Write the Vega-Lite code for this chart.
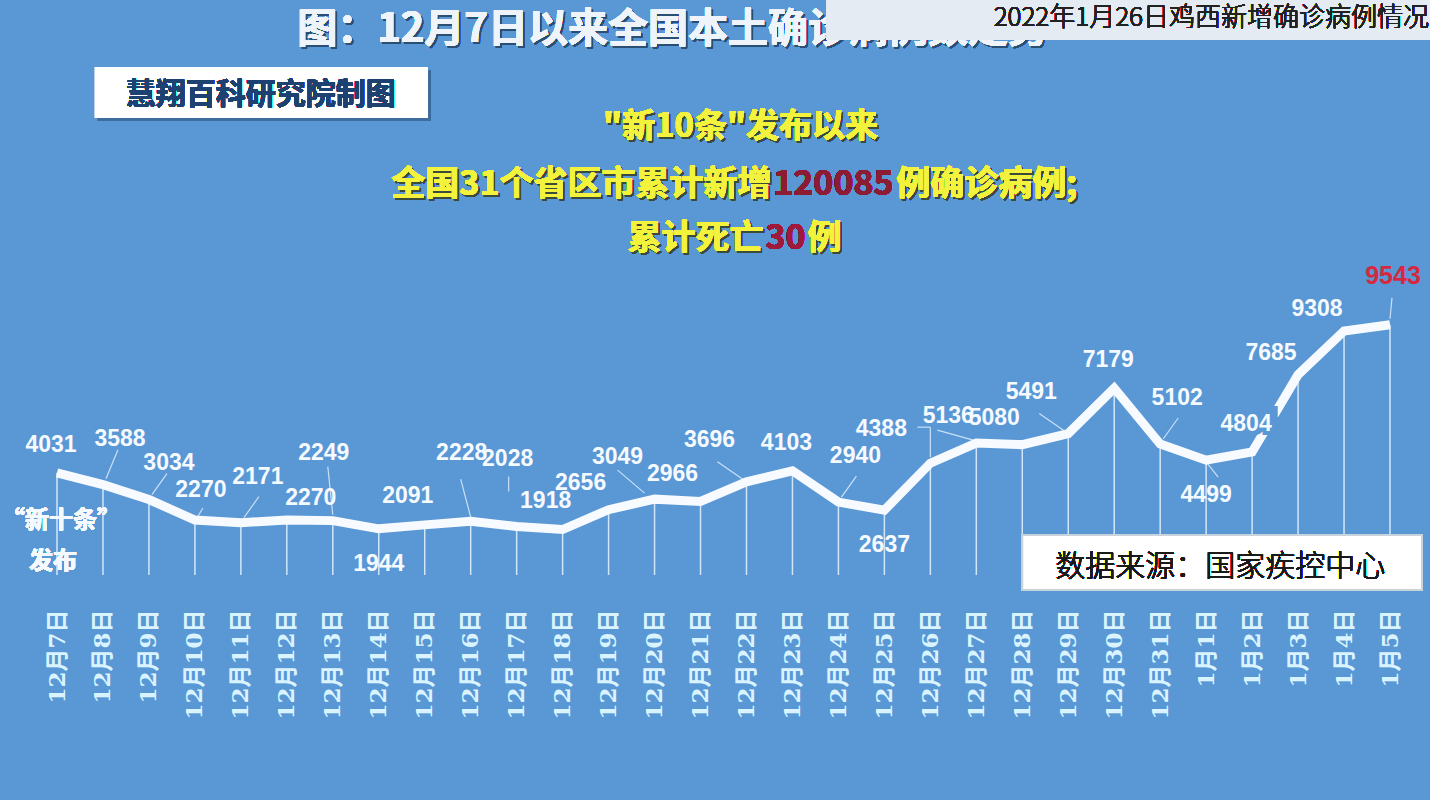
{
  "$schema": "https://vega.github.io/schema/vega-lite/v6.json",
  "width": 1430,
  "height": 800,
  "autosize": "none",
  "padding": 0,
  "background": "#5a97d5",
  "config": {
    "view": {"stroke": null},
    "font": "Noto Sans CJK SC",
    "text": {"font": "Noto Sans CJK SC"},
    "rule": {"color": "#e6f4ff", "strokeWidth": 1.2, "opacity": 0.8}
  },
  "data": {
    "values": [
      {"date": "12月7日", "cases": 4031},
      {"date": "12月8日", "cases": 3588},
      {"date": "12月9日", "cases": 3034},
      {"date": "12月10日", "cases": 2270},
      {"date": "12月11日", "cases": 2171},
      {"date": "12月12日", "cases": 2270},
      {"date": "12月13日", "cases": 2249},
      {"date": "12月14日", "cases": 1944},
      {"date": "12月15日", "cases": 2091},
      {"date": "12月16日", "cases": 2228},
      {"date": "12月17日", "cases": 2028},
      {"date": "12月18日", "cases": 1918},
      {"date": "12月19日", "cases": 2656},
      {"date": "12月20日", "cases": 3049},
      {"date": "12月21日", "cases": 2966},
      {"date": "12月22日", "cases": 3696},
      {"date": "12月23日", "cases": 4103},
      {"date": "12月24日", "cases": 2940},
      {"date": "12月25日", "cases": 2637},
      {"date": "12月26日", "cases": 4388},
      {"date": "12月27日", "cases": 5136},
      {"date": "12月28日", "cases": 5080},
      {"date": "12月29日", "cases": 5491},
      {"date": "12月30日", "cases": 7179},
      {"date": "12月31日", "cases": 5102},
      {"date": "1月1日", "cases": 4499},
      {"date": "1月2日", "cases": 4804},
      {"date": "1月3日", "cases": 7685},
      {"date": "1月4日", "cases": 9308},
      {"date": "1月5日", "cases": 9543}
    ]
  },
  "encoding": {
    "x": {
      "field": "date",
      "type": "ordinal",
      "sort": null,
      "scale": {
        "type": "point",
        "padding": 0,
        "range": [57, 1390],
        "domain": ["12月7日", "12月8日", "12月9日", "12月10日", "12月11日", "12月12日", "12月13日", "12月14日", "12月15日", "12月16日", "12月17日", "12月18日", "12月19日", "12月20日", "12月21日", "12月22日", "12月23日", "12月24日", "12月25日", "12月26日", "12月27日", "12月28日", "12月29日", "12月30日", "12月31日", "1月1日", "1月2日", "1月3日", "1月4日", "1月5日"]
      },
      "axis": {
        "title": null,
        "orient": "bottom",
        "offset": -193,
        "domain": false,
        "ticks": false,
        "labelAngle": 270,
        "labelPadding": 2,
        "labelOverlap": false,
        "labelFont": "DejaVu Serif, Noto Sans CJK SC",
        "labelFontWeight": "bold",
        "labelFontSize": 23,
        "labelColor": "#d9f4ff"
      }
    },
    "y": {
      "field": "cases",
      "type": "quantitative",
      "scale": {"domain": [-8156, 21639], "nice": false, "zero": false},
      "axis": null
    }
  },
  "layer": [
    {
      "mark": {"type": "rule", "strokeWidth": 1.5, "opacity": 0.85},
      "encoding": {"y2": {"datum": 223}}
    },
    {
      "transform": [{"filter": {"field": "date", "oneOf": ["12月9日", "12月11日", "12月24日", "12月31日"]}}],
      "mark": {"type": "rule", "xOffset": 3, "yOffset": -5, "x2Offset": 18, "y2Offset": -26},
      "encoding": {"x2": {"field": "date"}, "y2": {"field": "cases"}}
    },
    {
      "transform": [{"filter": {"field": "date", "equal": "12月8日"}}],
      "mark": {"type": "rule", "xOffset": 3, "yOffset": -6, "x2Offset": 15, "y2Offset": -35},
      "encoding": {"x2": {"field": "date"}, "y2": {"field": "cases"}}
    },
    {
      "transform": [{"filter": {"field": "date", "equal": "12月10日"}}],
      "mark": {"type": "rule", "xOffset": 2, "yOffset": -2, "x2Offset": 8, "y2Offset": -12},
      "encoding": {"x2": {"field": "date"}, "y2": {"field": "cases"}}
    },
    {
      "transform": [{"filter": {"field": "date", "equal": "12月13日"}}],
      "mark": {"type": "rule", "xOffset": 0, "yOffset": -6, "x2Offset": -5, "y2Offset": -54},
      "encoding": {"x2": {"field": "date"}, "y2": {"field": "cases"}}
    },
    {
      "transform": [{"filter": {"field": "date", "equal": "12月16日"}}],
      "mark": {"type": "rule", "xOffset": 0, "yOffset": -4, "x2Offset": -10, "y2Offset": -42},
      "encoding": {"x2": {"field": "date"}, "y2": {"field": "cases"}}
    },
    {
      "transform": [{"filter": {"field": "date", "equal": "12月17日"}}],
      "mark": {"type": "rule", "xOffset": -8, "yOffset": -35, "x2Offset": -8, "y2Offset": -50},
      "encoding": {"x2": {"field": "date"}, "y2": {"field": "cases"}}
    },
    {
      "transform": [{"filter": {"field": "date", "equal": "12月20日"}}],
      "mark": {"type": "rule", "xOffset": -10, "yOffset": -6, "x2Offset": -37, "y2Offset": -29},
      "encoding": {"x2": {"field": "date"}, "y2": {"field": "cases"}}
    },
    {
      "transform": [{"filter": {"field": "date", "oneOf": ["12月22日", "12月29日"]}}],
      "mark": {"type": "rule", "xOffset": -3, "yOffset": -2, "x2Offset": -29, "y2Offset": -20},
      "encoding": {"x2": {"field": "date"}, "y2": {"field": "cases"}}
    },
    {
      "transform": [{"filter": {"field": "date", "equal": "12月27日"}}],
      "mark": {"type": "rule", "xOffset": -3, "yOffset": -3, "x2Offset": -39, "y2Offset": -13},
      "encoding": {"x2": {"field": "date"}, "y2": {"field": "cases"}}
    },
    {
      "transform": [{"filter": {"field": "date", "equal": "12月26日"}}],
      "mark": {"type": "rule", "xOffset": 0, "yOffset": -6, "x2Offset": 0, "y2Offset": -36},
      "encoding": {"x2": {"field": "date"}, "y2": {"field": "cases"}}
    },
    {
      "transform": [{"filter": {"field": "date", "equal": "12月26日"}}],
      "mark": {"type": "rule", "xOffset": 0, "yOffset": -36, "x2Offset": -13, "y2Offset": -36},
      "encoding": {"x2": {"field": "date"}, "y2": {"field": "cases"}}
    },
    {
      "transform": [{"filter": {"field": "date", "equal": "1月1日"}}],
      "mark": {"type": "rule", "xOffset": 1, "yOffset": 3, "x2Offset": 12, "y2Offset": 17},
      "encoding": {"x2": {"field": "date"}, "y2": {"field": "cases"}}
    },
    {
      "transform": [{"filter": {"field": "date", "equal": "1月5日"}}],
      "mark": {"type": "rule", "xOffset": 0, "yOffset": -6, "x2Offset": 2, "y2Offset": -27},
      "encoding": {"x2": {"field": "date"}, "y2": {"field": "cases"}}
    },
    {
      "mark": {"type": "line", "color": "#f7faff", "strokeWidth": 9, "strokeJoin": "miter"}
    },
    {
      "transform": [{"filter": {"field": "date", "equal": "1月2日"}}],
      "mark": {"type": "text", "dx": -4, "dy": -30, "font": "Liberation Sans", "fontWeight": "bold", "fontSize": 23, "fill": "#5a97d5", "stroke": "#5a97d5", "strokeWidth": 12},
      "encoding": {"text": {"field": "cases"}}
    },
    {
      "transform": [{"filter": {"field": "date", "oneOf": ["12月7日", "12月23日", "12月30日", "1月2日"]}}],
      "mark": {"type": "text", "dx": -6, "dy": -28, "font": "Liberation Sans", "fontWeight": "bold", "fontSize": 23, "fill": "#f5faff"},
      "encoding": {"text": {"field": "cases"}}
    },
    {
      "transform": [{"filter": {"field": "date", "oneOf": ["12月15日", "12月18日"]}}],
      "mark": {"type": "text", "dx": -17, "dy": -29, "font": "Liberation Sans", "fontWeight": "bold", "fontSize": 23, "fill": "#f5faff"},
      "encoding": {"text": {"field": "cases"}}
    },
    {
      "transform": [{"filter": {"field": "date", "oneOf": ["12月8日", "12月11日", "12月24日", "12月31日"]}}],
      "mark": {"type": "text", "dx": 17, "dy": -46, "font": "Liberation Sans", "fontWeight": "bold", "fontSize": 23, "fill": "#f5faff"},
      "encoding": {"text": {"field": "cases"}}
    },
    {
      "transform": [{"filter": {"field": "date", "equal": "12月9日"}}],
      "mark": {"type": "text", "dx": 20, "dy": -37, "font": "Liberation Sans", "fontWeight": "bold", "fontSize": 23, "fill": "#f5faff"},
      "encoding": {"text": {"field": "cases"}}
    },
    {
      "transform": [{"filter": {"field": "date", "equal": "12月10日"}}],
      "mark": {"type": "text", "dx": 6, "dy": -30, "font": "Liberation Sans", "fontWeight": "bold", "fontSize": 23, "fill": "#f5faff"},
      "encoding": {"text": {"field": "cases"}}
    },
    {
      "transform": [{"filter": {"field": "date", "equal": "12月12日"}}],
      "mark": {"type": "text", "dx": 24, "dy": -22, "font": "Liberation Sans", "fontWeight": "bold", "fontSize": 23, "fill": "#f5faff"},
      "encoding": {"text": {"field": "cases"}}
    },
    {
      "transform": [{"filter": {"field": "date", "oneOf": ["12月13日", "12月16日", "12月17日"]}}],
      "mark": {"type": "text", "dx": -9, "dy": -68, "font": "Liberation Sans", "fontWeight": "bold", "fontSize": 23, "fill": "#f5faff"},
      "encoding": {"text": {"field": "cases"}}
    },
    {
      "transform": [{"filter": {"field": "date", "oneOf": ["12月14日", "12月25日", "1月1日"]}}],
      "mark": {"type": "text", "dx": 0, "dy": 35, "font": "Liberation Sans", "fontWeight": "bold", "fontSize": 23, "fill": "#f5faff"},
      "encoding": {"text": {"field": "cases"}}
    },
    {
      "transform": [{"filter": {"field": "date", "oneOf": ["12月19日", "12月21日", "12月27日", "12月28日"]}}],
      "mark": {"type": "text", "dx": -28, "dy": -27, "font": "Liberation Sans", "fontWeight": "bold", "fontSize": 23, "fill": "#f5faff"},
      "encoding": {"text": {"field": "cases"}}
    },
    {
      "transform": [{"filter": {"field": "date", "oneOf": ["12月20日", "12月22日", "12月29日"]}}],
      "mark": {"type": "text", "dx": -37, "dy": -42, "font": "Liberation Sans", "fontWeight": "bold", "fontSize": 23, "fill": "#f5faff"},
      "encoding": {"text": {"field": "cases"}}
    },
    {
      "transform": [{"filter": {"field": "date", "equal": "12月26日"}}],
      "mark": {"type": "text", "dx": -49, "dy": -34, "font": "Liberation Sans", "fontWeight": "bold", "fontSize": 23, "fill": "#f5faff"},
      "encoding": {"text": {"field": "cases"}}
    },
    {
      "transform": [{"filter": {"field": "date", "oneOf": ["1月3日", "1月4日"]}}],
      "mark": {"type": "text", "dx": -27, "dy": -22, "font": "Liberation Sans", "fontWeight": "bold", "fontSize": 23, "fill": "#f5faff"},
      "encoding": {"text": {"field": "cases"}}
    },
    {
      "transform": [{"filter": {"field": "date", "equal": "1月5日"}}],
      "mark": {"type": "text", "dx": 3, "dy": -49, "font": "Liberation Sans", "fontWeight": "bold", "fontSize": 25, "fill": "#d6283f"},
      "encoding": {"text": {"field": "cases"}}
    },
    {
      "mark": {"type": "text", "text": "“新十条”", "dx": 4, "fontWeight": "bold", "fontSize": 24, "fill": "#f5faff"},
      "encoding": {"x": {"datum": "12月7日"}, "y": {"datum": 2235}}
    },
    {
      "mark": {"type": "text", "text": "发布", "dx": -4, "fontWeight": "bold", "fontSize": 24, "fill": "#f5faff"},
      "encoding": {"x": {"datum": "12月7日"}, "y": {"datum": 708}}
    },
    {
      "mark": {"type": "rect", "fill": "#ffffff", "stroke": "#c9d3dc", "strokeWidth": 2, "x2Offset": 32},
      "encoding": {"x": {"datum": "12月28日"}, "x2": {"datum": "1月5日"}, "y": {"datum": 1713}, "y2": {"datum": -335}}
    },
    {
      "mark": {"type": "text", "text": "数据来源：国家疾控中心", "dx": 14, "fontSize": 30, "fontWeight": 300, "fill": "#1a1a1a"},
      "encoding": {"x": {"datum": "1月1日"}, "y": {"datum": 521}}
    },
    {
      "mark": {"type": "text", "text": "图：12月7日以来全国本土确诊病例数走势", "dx": 20, "dy": 2, "fontWeight": "bold", "fontSize": 40, "fill": "#2b4f73", "opacity": 0.6},
      "encoding": {"x": {"datum": "12月20日"}, "y": {"datum": 20521}}
    },
    {
      "mark": {"type": "text", "text": "图：12月7日以来全国本土确诊病例数走势", "dx": 18, "fontWeight": "bold", "fontSize": 40, "fill": "#eef4fa"},
      "encoding": {"x": {"datum": "12月20日"}, "y": {"datum": 20521}}
    },
    {
      "mark": {"type": "rect", "fill": "#3d6d9c", "opacity": 0.6, "xOffset": -5, "x2Offset": 6, "yOffset": 3, "y2Offset": 3},
      "encoding": {"x": {"datum": "12月8日"}, "x2": {"datum": "12月15日"}, "y": {"datum": 19143}, "y2": {"datum": 17244}}
    },
    {
      "mark": {"type": "rect", "fill": "#ffffff", "xOffset": -8, "x2Offset": 3},
      "encoding": {"x": {"datum": "12月8日"}, "x2": {"datum": "12月15日"}, "y": {"datum": 19143}, "y2": {"datum": 17244}}
    },
    {
      "mark": {"type": "text", "text": "慧翔百科研究院制图", "dx": 20, "fontWeight": "bold", "fontSize": 30, "fill": "#1d4272"},
      "encoding": {"x": {"datum": "12月11日"}, "y": {"datum": 18101}}
    },
    {
      "mark": {"type": "text", "text": "\"新10条\"发布以来", "dx": -4, "dy": 2, "fontWeight": "bold", "fontSize": 33, "fill": "#3b4a3a", "opacity": 0.55},
      "encoding": {"x": {"datum": "12月22日"}, "y": {"datum": 16909}}
    },
    {
      "mark": {"type": "text", "text": "\"新10条\"发布以来", "dx": -6, "fontWeight": "bold", "fontSize": 33, "fill": "#f3f23c"},
      "encoding": {"x": {"datum": "12月22日"}, "y": {"datum": 16909}}
    },
    {
      "mark": {"type": "text", "text": "全国31个省区市累计新增", "align": "right", "dx": -19, "dy": 2, "fontWeight": "bold", "fontSize": 34, "fill": "#3b4a3a", "opacity": 0.55},
      "encoding": {"x": {"datum": "12月23日"}, "y": {"datum": 14749}}
    },
    {
      "mark": {"type": "text", "text": "全国31个省区市累计新增", "align": "right", "dx": -21, "fontWeight": "bold", "fontSize": 34, "fill": "#f3f23c"},
      "encoding": {"x": {"datum": "12月23日"}, "y": {"datum": 14749}}
    },
    {
      "mark": {"type": "text", "text": "120085", "dx": -5, "fontWeight": "bold", "fontSize": 34, "fill": "#8e1b34"},
      "encoding": {"x": {"datum": "12月24日"}, "y": {"datum": 14749}}
    },
    {
      "mark": {"type": "text", "text": "例确诊病例;", "align": "left", "dx": -32, "dy": 2, "fontWeight": "bold", "fontSize": 34, "fill": "#3b4a3a", "opacity": 0.55},
      "encoding": {"x": {"datum": "12月26日"}, "y": {"datum": 14749}}
    },
    {
      "mark": {"type": "text", "text": "例确诊病例;", "align": "left", "dx": -34, "fontWeight": "bold", "fontSize": 34, "fill": "#f3f23c"},
      "encoding": {"x": {"datum": "12月26日"}, "y": {"datum": 14749}}
    },
    {
      "mark": {"type": "text", "text": "累计死亡", "align": "right", "dx": 19, "dy": 2, "fontWeight": "bold", "fontSize": 34, "fill": "#3b4a3a", "opacity": 0.55},
      "encoding": {"x": {"datum": "12月22日"}, "y": {"datum": 12737}}
    },
    {
      "mark": {"type": "text", "text": "累计死亡", "align": "right", "dx": 17, "fontWeight": "bold", "fontSize": 34, "fill": "#f3f23c"},
      "encoding": {"x": {"datum": "12月22日"}, "y": {"datum": 12737}}
    },
    {
      "mark": {"type": "text", "text": "30", "dx": -7, "fontWeight": "bold", "fontSize": 34, "fill": "#a0183a"},
      "encoding": {"x": {"datum": "12月23日"}, "y": {"datum": 12737}}
    },
    {
      "mark": {"type": "text", "text": "例", "align": "left", "dx": 17, "dy": 2, "fontWeight": "bold", "fontSize": 34, "fill": "#3b4a3a", "opacity": 0.55},
      "encoding": {"x": {"datum": "12月23日"}, "y": {"datum": 12737}}
    },
    {
      "mark": {"type": "text", "text": "例", "align": "left", "dx": 15, "fontWeight": "bold", "fontSize": 34, "fill": "#f3f23c"},
      "encoding": {"x": {"datum": "12月23日"}, "y": {"datum": 12737}}
    },
    {
      "mark": {"type": "rect", "fill": "#e4ebf2", "opacity": 0.88, "xOffset": -12, "x2Offset": 45},
      "encoding": {"x": {"datum": "12月24日"}, "x2": {"datum": "1月5日"}, "y": {"datum": 21700}, "y2": {"datum": 20149}}
    },
    {
      "mark": {"type": "text", "text": "2022年1月26日鸡西新增确诊病例情况", "align": "right", "dx": 39, "fontSize": 26, "fontWeight": 300, "fill": "#222222"},
      "encoding": {"x": {"datum": "1月5日"}, "y": {"datum": 20968}}
    }
  ]
}
